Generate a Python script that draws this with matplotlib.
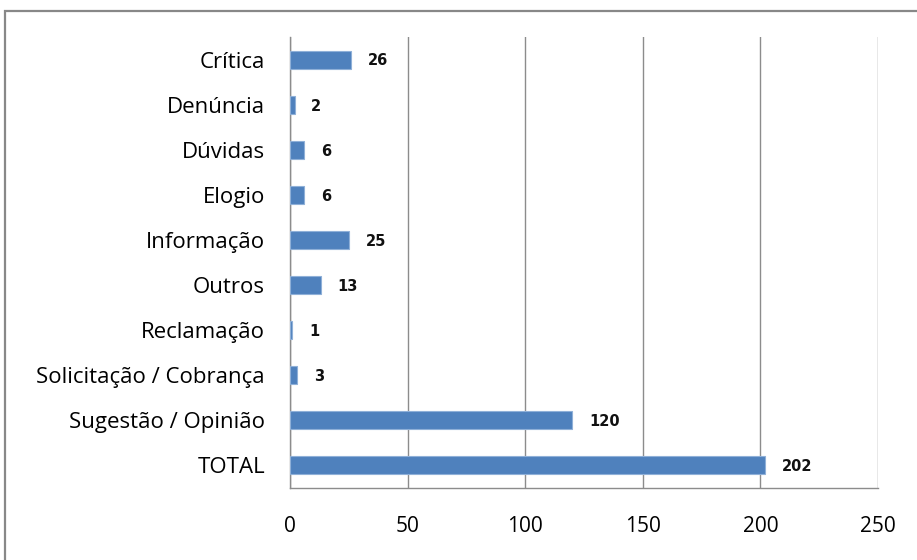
import matplotlib
matplotlib.use("Agg")
import matplotlib.pyplot as plt
from matplotlib.patches import Rectangle

categories = ["Crítica", "Denúncia", "Dúvidas", "Elogio", "Informação", "Outros",
              "Reclamação", "Solicitação / Cobrança", "Sugestão / Opinião", "TOTAL"]
values = [26, 2, 6, 6, 25, 13, 1, 3, 120, 202]
xticks = [0, 50, 100, 150, 200, 250]

plt.rcParams['font.family'] = ['Open Sans', 'DejaVu Sans']

fig = plt.figure(figsize=(9.17, 5.6), dpi=100)
fig.patches.append(Rectangle((5/917, -0.1), 1.2, 1 - 11/560 + 0.1, transform=fig.transFigure,
                             fill=False, edgecolor='#888888', linewidth=1.6))
ax = fig.add_axes([290/917, 1 - 488/560, 588/917, 451/560])

ypos = list(range(len(categories)))
ax.barh(ypos, values, height=0.4, color='#4F81BD', edgecolor='#8FB0D8', linewidth=0.8, zorder=3)
ax.set_ylim(len(categories) - 0.5, -0.5)
ax.set_xlim(0, 250)
ax.set_xticks(xticks)
ax.set_xticklabels([str(t) for t in xticks])
ax.set_yticks(ypos)
ax.set_yticklabels(categories)
ax.tick_params(axis='x', length=0, pad=20, labelsize=15, colors='#000000')
ax.tick_params(axis='y', length=0, pad=18, labelsize=16)
ax.xaxis.grid(True, color='#8c8c8c', linewidth=1)
ax.set_axisbelow(True)
for s in ['top', 'right']:
    ax.spines[s].set_visible(False)
for s in ['left', 'bottom']:
    ax.spines[s].set_color('#8c8c8c')
    ax.spines[s].set_linewidth(1)

for y, v in zip(ypos, values):
    ax.annotate(str(v), (v, y), xytext=(12, -1), textcoords='offset points',
                va='center', ha='left', fontsize=10.5, fontweight='bold', color='#111111',
                family='DejaVu Sans')

fig.savefig("out.png", dpi=100)
